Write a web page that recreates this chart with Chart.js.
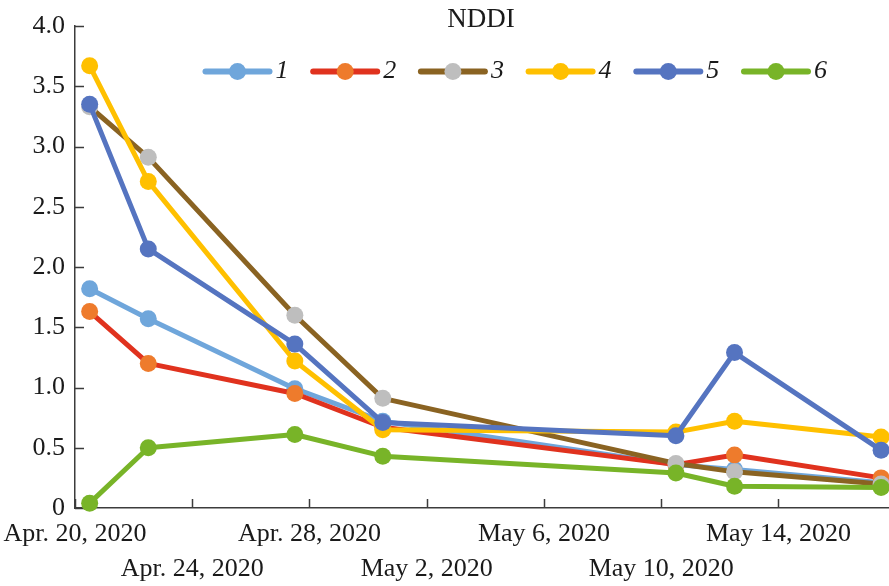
<!DOCTYPE html>
<html>
<head>
<meta charset="utf-8">
<title>NDDI</title>
<script src="https://cdn.jsdelivr.net/npm/chart.js@4.4.1/dist/chart.umd.min.js"></script>
<style>
  html, body { margin: 0; padding: 0; background: #ffffff; }
  canvas { display: block; }
</style>
</head>
<body>
<canvas id="nddiChart" width="889" height="586"></canvas>
<script>
// Observation dates and NDDI values for the six sites
const obsDates = ['2020-04-20', '2020-04-22', '2020-04-27', '2020-04-30', '2020-05-10', '2020-05-12', '2020-05-17'];
const seriesNames = ['1', '2', '3', '4', '5', '6'];
const nddi1 = [1.82, 1.57, 0.99, 0.72, 0.36, 0.32, 0.21];
const nddi2 = [1.63, 1.20, 0.95, 0.67, 0.36, 0.44, 0.25];
const nddi3 = [3.33, 2.91, 1.60, 0.91, 0.37, 0.30, 0.20];
const nddi4 = [3.67, 2.71, 1.22, 0.65, 0.63, 0.72, 0.59];
const nddi5 = [3.35, 2.15, 1.36, 0.71, 0.60, 1.29, 0.48];
const nddi6 = [0.04, 0.50, 0.61, 0.43, 0.29, 0.18, 0.17];

// Date axis ticks (every four days)
const tickDates = ['2020-04-20', '2020-04-24', '2020-04-28', '2020-05-02', '2020-05-06', '2020-05-10', '2020-05-14'];
const tickLabels = ['Apr. 20, 2020', 'Apr. 24, 2020', 'Apr. 28, 2020', 'May 2, 2020', 'May 6, 2020', 'May 10, 2020', 'May 14, 2020'];

// Value axis
const yMin = 0, yMax = 4, yStep = 0.5;

const lineColors   = ['#6FA6DB', '#E0321E', '#8A6322', '#FFC000', '#5574C0', '#78B428'];
const markerColors = ['#6FA6DB', '#EE7B2C', '#BEBEBE', '#FFC000', '#5574C0', '#78B428'];
const allSeries = [nddi1, nddi2, nddi3, nddi4, nddi5, nddi6];

const SERIF = '"Liberation Serif", "Times New Roman", serif';
const TEXT_COLOR = '#1a1a1a';
const AXIS_COLOR = '#3c3c3c';

const DAY_MS = 86400000;
const t0 = Date.parse(tickDates[0]);
const dayOf = s => (Date.parse(s) - t0) / DAY_MS;
// each observation sits in the middle of its day on the date axis
const xOf = s => dayOf(s) + 0.5;

const datasets = allSeries.map((vals, i) => ({
  label: seriesNames[i],
  data: vals.map((v, j) => ({ x: xOf(obsDates[j]), y: v })),
  borderColor: lineColors[i],
  backgroundColor: markerColors[i],
  pointBackgroundColor: markerColors[i],
  pointBorderColor: markerColors[i],
  pointBorderWidth: 0,
  pointRadius: 8.5,
  pointHoverRadius: 8.5,
  borderWidth: 5,
  borderJoinStyle: 'round',
  borderCapStyle: 'round',
  tension: 0,
  clip: false,
  order: -i   // later series are drawn on top
}));

// Inward-pointing tick marks on both axes
const innerTicks = {
  id: 'innerTicks',
  beforeDatasetsDraw(chart) {
    const { ctx, chartArea: a } = chart;
    const xs = chart.scales.x, ys = chart.scales.y;
    ctx.save();
    ctx.strokeStyle = AXIS_COLOR;
    ctx.lineWidth = 1.5;
    ctx.beginPath();
    xs.ticks.forEach(t => {
      const px = Math.round(xs.getPixelForValue(t.value)) + 0.5;
      ctx.moveTo(px, a.bottom);
      ctx.lineTo(px, a.bottom - 9);
    });
    ys.ticks.forEach(t => {
      const py = Math.round(ys.getPixelForValue(t.value)) + 0.5;
      ctx.moveTo(a.left, py);
      ctx.lineTo(a.left + 9, py);
    });
    ctx.stroke();
    ctx.restore();
  }
};

// Title and the single-row legend (line + marker + italic name)
const headerAndLegend = {
  id: 'headerAndLegend',
  afterDraw(chart) {
    const { ctx } = chart;
    ctx.save();
    ctx.fillStyle = TEXT_COLOR;
    ctx.font = '27px ' + SERIF;
    ctx.textAlign = 'center';
    ctx.textBaseline = 'alphabetic';
    ctx.fillText('NDDI', 481, 26.5);

    const startX = 205.5, stepX = 107.7, rowY = 71.5, lineLen = 64;
    chart.data.datasets.forEach((ds, i) => {
      const x0 = startX + i * stepX;
      ctx.strokeStyle = ds.borderColor;
      ctx.lineWidth = 6;
      ctx.lineCap = 'round';
      ctx.beginPath();
      ctx.moveTo(x0, rowY);
      ctx.lineTo(x0 + lineLen, rowY);
      ctx.stroke();
      ctx.fillStyle = ds.pointBackgroundColor;
      ctx.beginPath();
      ctx.arc(x0 + lineLen / 2, rowY, 8.5, 0, Math.PI * 2);
      ctx.fill();
      ctx.fillStyle = TEXT_COLOR;
      ctx.font = 'italic 26px ' + SERIF;
      ctx.textAlign = 'left';
      ctx.textBaseline = 'middle';
      ctx.fillText(ds.label, x0 + lineLen + 6, rowY);
    });
    ctx.restore();
  }
};

Chart.defaults.font.family = SERIF;
Chart.defaults.color = TEXT_COLOR;

new Chart(document.getElementById('nddiChart'), {
  type: 'line',
  data: { datasets },
  plugins: [innerTicks, headerAndLegend],
  options: {
    responsive: false,
    animation: false,
    devicePixelRatio: 1,
    layout: { autoPadding: false, padding: { top: 26, right: 0, left: 0, bottom: 0 } },
    plugins: {
      legend: { display: false },
      tooltip: { enabled: false },
      title: { display: false }
    },
    scales: {
      x: {
        type: 'linear',
        min: 0,
        max: 27.77,
        grid: { display: false, drawTicks: false },
        border: { display: true, color: AXIS_COLOR, width: 1.5 },
        afterBuildTicks(scale) {
          scale.ticks = tickDates.map(d => ({ value: dayOf(d) }));
        },
        afterFit(scale) {
          scale.height = 78;
          scale.paddingLeft = 0;
          scale.paddingRight = 0;
        },
        ticks: {
          autoSkip: false,
          maxRotation: 0,
          minRotation: 0,
          padding: 9,
          color: TEXT_COLOR,
          font: { size: 26, family: SERIF, lineHeight: 1.33 },
          callback: (value, index) => index % 2 ? ['', tickLabels[index]] : tickLabels[index]
        }
      },
      y: {
        min: yMin,
        max: yMax,
        grid: { display: false, drawTicks: false },
        border: { display: true, color: AXIS_COLOR, width: 1.5 },
        afterFit(scale) {
          scale.width = 75;
        },
        ticks: {
          stepSize: yStep,
          padding: 10,
          color: TEXT_COLOR,
          font: { size: 26, family: SERIF },
          callback: v => v === 0 ? '0' : v.toFixed(1)
        }
      }
    }
  }
});
</script>
</body>
</html>
